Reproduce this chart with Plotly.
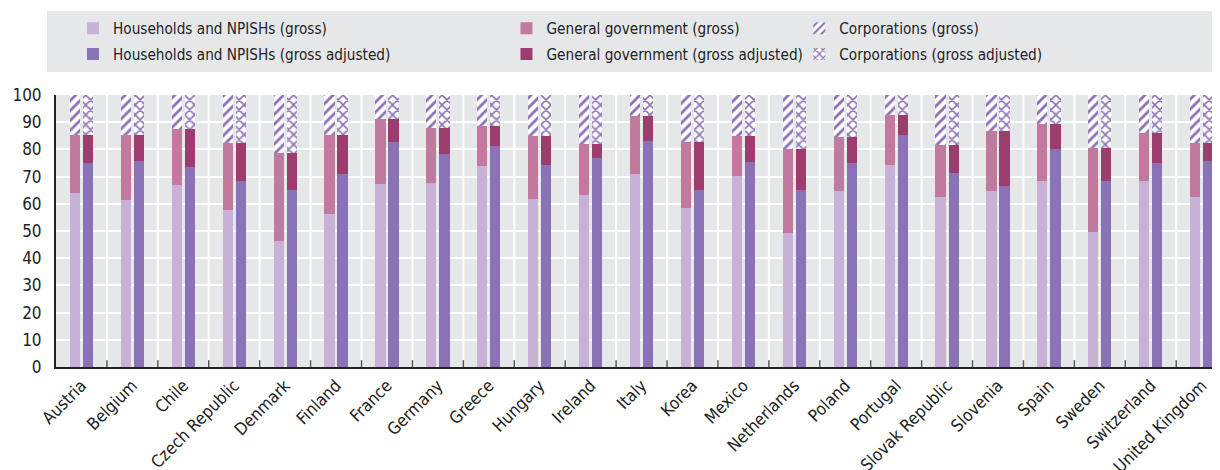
import plotly.graph_objects as go

countries = ["Austria", "Belgium", "Chile", "Czech Republic", "Denmark", "Finland", "France",
             "Germany", "Greece", "Hungary", "Ireland", "Italy", "Korea", "Mexico", "Netherlands",
             "Poland", "Portugal", "Slovak Republic", "Slovenia", "Spain", "Sweden", "Switzerland",
             "United Kingdom"]

hh_gross = [63.8, 61.3, 66.8, 57.6, 46.2, 56.1, 67.2, 67.5, 73.8, 61.6, 63.1, 70.8, 58.3, 70.1, 49.1,
            64.6, 74.1, 62.4, 64.6, 68.3, 49.5, 68.3, 62.4]
gg_gross = [21.4, 23.9, 20.6, 24.6, 32.4, 29.1, 23.9, 20.2, 14.8, 23.2, 18.8, 21.4, 24.3, 14.7, 30.9,
            19.8, 18.4, 19.1, 22.0, 20.9, 30.9, 17.6, 19.8]
hh_adj = [74.9, 75.6, 73.4, 68.3, 65.0, 70.8, 82.6, 78.2, 81.1, 74.1, 76.7, 83.0, 65.0, 75.2, 65.0,
          74.9, 85.2, 71.2, 66.4, 80.0, 68.3, 74.9, 75.6]
gg_adj = [10.3, 9.6, 14.0, 13.9, 13.6, 14.4, 8.5, 9.5, 7.5, 10.7, 5.2, 9.2, 17.6, 9.6, 15.0,
          9.5, 7.3, 10.3, 20.2, 9.2, 12.1, 11.0, 6.6]
corp_gross = [100 - a - b for a, b in zip(hh_gross, gg_gross)]
corp_adj = [100 - a - b for a, b in zip(hh_adj, gg_adj)]

y_ticks = [0, 10, 20, 30, 40, 50, 60, 70, 80, 90, 100]

FONT = "Liberation Sans Narrow, DejaVu Sans Condensed, Roboto, sans-serif"
C_HH_G = "#c8b1d6"
C_HH_A = "#8a72b6"
C_GG_G = "#c1799d"
C_GG_A = "#9c3d6e"
C_PAT = "#8a72b6"

idx = list(range(len(countries)))
x_gross = [i - 0.128 for i in idx]
x_adj = [i + 0.128 for i in idx]
W = 0.2

fig = go.Figure()

def add_bar(x, y, name, color, legend, pattern=None):
    marker = dict(color=color, line=dict(width=0))
    if pattern:
        marker = dict(color=C_PAT, line=dict(width=0),
                      pattern=dict(shape=pattern, fgcolor=C_PAT, bgcolor="white",
                                   size=7, solidity=0.4, fgopacity=1))
    fig.add_trace(go.Bar(x=x, y=y, name=name, width=W, marker=marker,
                         legend=legend, legendgroup=name, hoverinfo="skip"))

add_bar(x_gross, hh_gross, "Households and NPISHs (gross)", C_HH_G, "legend")
add_bar(x_gross, gg_gross, "General government (gross)", C_GG_G, "legend2")
add_bar(x_gross, corp_gross, "Corporations (gross)", None, "legend3", pattern="/")
add_bar(x_adj, hh_adj, "Households and NPISHs (gross adjusted)", C_HH_A, "legend")
add_bar(x_adj, gg_adj, "General government (gross adjusted)", C_GG_A, "legend2")
add_bar(x_adj, corp_adj, "Corporations (gross adjusted)", None, "legend3", pattern="x")

fnt = dict(family=FONT, size=15.2, color="#222")
tick_fnt = dict(family=FONT, size=17, color="#222")
leg_common = dict(orientation="v", bgcolor="rgba(0,0,0,0)", borderwidth=0,
                  font=fnt, yanchor="top", xanchor="left", tracegroupgap=3, itemwidth=30,
                  traceorder="grouped")

fig.update_layout(
    width=1212, height=462,
    margin=dict(l=48, r=0, t=87, b=103, autoexpand=False),
    paper_bgcolor="white",
    plot_bgcolor="#e6e7e9",
    barmode="stack",
    bargap=0,
    font=fnt,
    showlegend=True,
    legend=dict(x=0.0146, y=1.306, **leg_common),
    legend2=dict(x=0.387, y=1.306, **leg_common),
    legend3=dict(x=0.6386, y=1.306, **leg_common),
    xaxis=dict(
        range=[-0.5, 22.36],
        tickmode="array", tickvals=idx, ticktext=countries,
        tickangle=-45,
        tickfont=tick_fnt,
        showgrid=False,
        showline=True, linecolor="#222", linewidth=2,
        ticks="", zeroline=False, automargin=False,
    ),
    yaxis=dict(
        range=[0, 100],
        tickmode="array", tickvals=y_ticks,
        tickfont=tick_fnt,
        showgrid=True, gridcolor="white", gridwidth=2,
        showline=True, linecolor="#222", linewidth=2,
        zeroline=False, ticks="", ticklen=0, ticklabelstandoff=9, automargin=False,
    ),
)

# legend background panel
fig.add_shape(type="rect", xref="paper", yref="paper",
              x0=-0.0077, x1=1.0, y0=1.0846, y1=1.309,
              fillcolor="#e6e7e9", line=dict(width=0), layer="below")

# vertical grid lines and ticks at category boundaries
for k in range(1, len(countries)):
    fig.add_shape(type="line", xref="x", yref="paper", x0=k - 0.5, x1=k - 0.5, y0=0, y1=1,
                  line=dict(color="white", width=2), layer="below")
    fig.add_shape(type="line", xref="x", yref="paper", x0=k - 0.5, x1=k - 0.5, y0=0, y1=0.025,
                  line=dict(color="#555", width=1.5), layer="above")

fig.write_html("out.html")
